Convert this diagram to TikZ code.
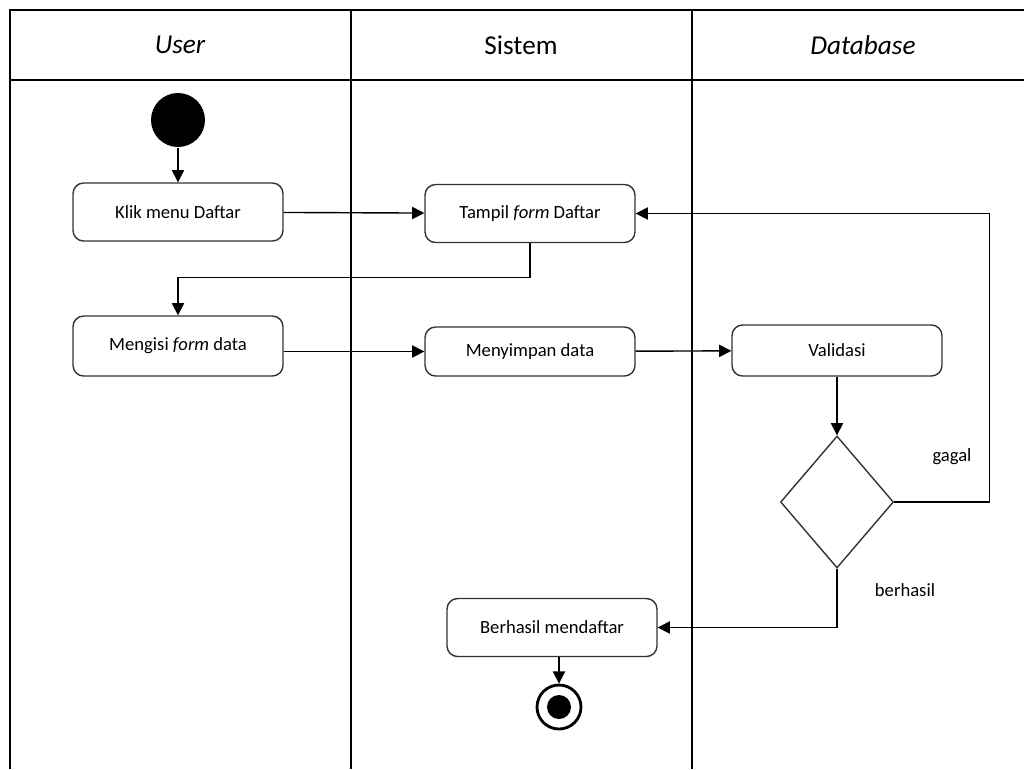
\documentclass[tikz,border=0pt]{standalone}
\usepackage{fontspec}
\setmainfont{Carlito}
\usetikzlibrary{shapes.geometric, arrows.meta, positioning, calc}
\definecolor{boxline}{HTML}{333333}

\begin{document}
\begin{tikzpicture}[x=0.02cm, y=-0.02cm, line width=0.8pt,
  act/.style={draw=boxline, rounded corners=6pt, minimum width=4.2cm, minimum height=1.16cm, font=\fontsize{10.6}{12}\selectfont},
  flow/.style={-{Triangle[length=7pt,width=7pt]}},
  lbl/.style={font=\fontsize{10.6}{12}\selectfont}]
  \useasboundingbox (0,0) rectangle (1024,769);

  % swimlanes
  \draw (1024,10) -- (10,10) -- (10,769);
  \draw (10,80) -- (1024,80);
  \draw (351,10) -- (351,769);
  \draw (692,10) -- (692,769);
  \node[font=\fontsize{15.5}{15}\selectfont\itshape] (laneuser) at (180,45) {User};
  \node[font=\fontsize{15.5}{15}\selectfont] (lanesistem) at (521,45) {Sistem};
  \node[font=\fontsize{15.5}{15}\selectfont\itshape] (lanedb) at (863,45) {Database};

  % activities
  \node[circle, fill, minimum size=1.08cm, inner sep=0] (start) at (178,120) {};
  \node[act] (klik) at (178,212) {Klik menu Daftar};
  \node[act] (tampil) at (530,213.5) {Tampil \textit{form} Daftar};
  \node[act, minimum height=1.2cm] (mengisi) at (178,346) {Mengisi \textit{form} data};
  \node[act, minimum height=0.98cm] (simpan) at (530,351.5) {Menyimpan data};
  \node[act, minimum height=1.02cm] (valid) at (837,350.5) {Validasi};
  \node[diamond, draw=boxline, aspect=0.86, minimum width=2.26cm, minimum height=2.64cm, inner sep=0] (cek) at (837,502) {};
  \node[act] (selesai) at (552,627.5) {Berhasil mendaftar};
  \node[circle, draw, line width=1.6pt, minimum size=0.88cm, inner sep=0] (akhir) at (559,707) {};
  \fill (akhir.center) circle (0.24cm);

  \node[lbl] (gagal) at (952,457) {gagal};
  \node[lbl] (berhasil) at (905,590) {berhasil};

  % flows
  \draw[flow] (start) -- (klik);
  \draw[flow] (klik) -- (tampil);
  \draw[flow] (tampil.south) -- ++(0,34) -| (mengisi.north);
  \draw[flow] (mengisi.east |- simpan) -- (simpan.west);
  \draw[flow] (simpan) -- (valid);
  \draw[flow] (valid) -- (cek);
  \draw[flow] (cek.east) -- ++(95,0) |- (tampil.east);
  \draw[flow] (cek.south) |- (selesai.east);
  \draw[flow] (akhir |- selesai.south) -- (akhir);
\end{tikzpicture}
\end{document}
